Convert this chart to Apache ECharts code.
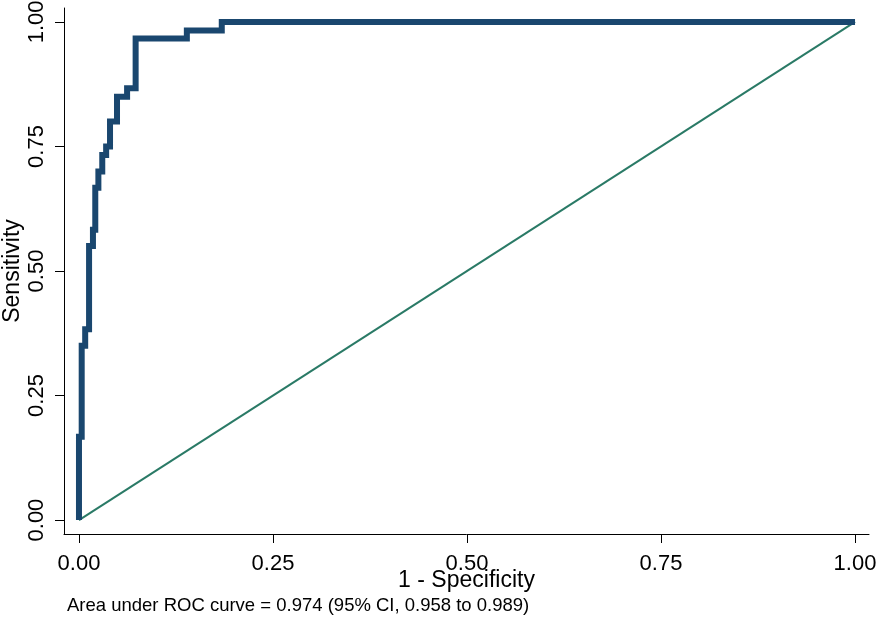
<!DOCTYPE html>
<html>
<head>
<meta charset="utf-8">
<script src="https://cdn.jsdelivr.net/npm/echarts@6/dist/echarts.min.js"></script>
<style>
  html, body { margin: 0; padding: 0; background: #fff; }
  #main { width: 878px; height: 627px; }
</style>
</head>
<body>
<div id="main"></div>
<script>
// ROC curve corners (1 - specificity, sensitivity)
const fpr = [0, 0, 0.0035, 0.0035, 0.008, 0.008, 0.013, 0.013, 0.018, 0.018,
  0.021, 0.021, 0.025, 0.025, 0.030, 0.030, 0.035, 0.035, 0.040, 0.040,
  0.049, 0.049, 0.062, 0.062, 0.073, 0.073, 0.139, 0.139, 0.184, 0.184, 1];
const tpr = [0, 0.167, 0.167, 0.35, 0.35, 0.383, 0.383, 0.55, 0.55, 0.583,
  0.583, 0.667, 0.667, 0.70, 0.70, 0.733, 0.733, 0.75, 0.75, 0.80,
  0.80, 0.85, 0.85, 0.867, 0.867, 0.967, 0.967, 0.983, 0.983, 1, 1];

// reference (chance) line
const refX = [0, 1];
const refY = [0, 1];

const tickValues = [0, 0.25, 0.5, 0.75, 1];
const note = "Area under ROC curve = 0.974 (95% CI, 0.958 to 0.989)";

const font = "Liberation Sans, Arial, sans-serif";

const myChart = echarts.init(document.getElementById("main"), null, {
  renderer: "canvas",
});

myChart.setOption({
  animation: false,
  backgroundColor: "#fff",
  // fixed plot box, don't let v6 shrink it for the axis names
  grid: { left: 64, right: 9, top: 8, bottom: 93, outerBoundsMode: "none", containLabel: false },
  xAxis: {
    type: "value",
    min: -0.0193,
    max: 1.018,
    name: "1 - Specificity",
    nameLocation: "middle",
    nameGap: 35,
    nameMoveOverlap: false,
    nameTextStyle: { fontFamily: font, fontSize: 23, color: "#000" },
    axisLine: { show: true, onZero: false, lineStyle: { color: "#000", width: 1 } },
    axisTick: { show: true, length: 9, customValues: tickValues, lineStyle: { color: "#000" } },
    axisLabel: {
      customValues: tickValues,
      formatter: (v) => v.toFixed(2),
      fontFamily: font,
      fontSize: 22,
      color: "#000",
      margin: 19,
    },
    splitLine: { show: false },
  },
  yAxis: {
    type: "value",
    min: -0.028,
    max: 1.028,
    name: "Sensitivity",
    nameLocation: "middle",
    nameGap: 40,
    nameMoveOverlap: false,
    nameTextStyle: { fontFamily: font, fontSize: 23, color: "#000" },
    axisLine: { show: true, onZero: false, lineStyle: { color: "#000", width: 1 } },
    axisTick: { show: true, length: 9, customValues: tickValues, lineStyle: { color: "#000" } },
    axisLabel: {
      customValues: tickValues,
      formatter: (v) => v.toFixed(2),
      rotate: 90,
      fontFamily: font,
      fontSize: 22,
      color: "#000",
      margin: 16,
    },
    splitLine: { show: false },
  },
  graphic: [
    {
      type: "text",
      left: 67,
      top: 596,
      style: { text: note, font: "18.5px " + font, fill: "#000" },
    },
  ],
  series: [
    {
      type: "line",
      data: refX.map((x, i) => [x, refY[i]]),
      showSymbol: false,
      lineStyle: { color: "#2a7a66", width: 2 },
      z: 1,
    },
    {
      type: "line",
      data: fpr.map((x, i) => [x, tpr[i]]),
      showSymbol: false,
      lineStyle: { color: "#1a476f", width: 6, cap: "butt", join: "miter" },
      z: 2,
    },
  ],
});
</script>
</body>
</html>
